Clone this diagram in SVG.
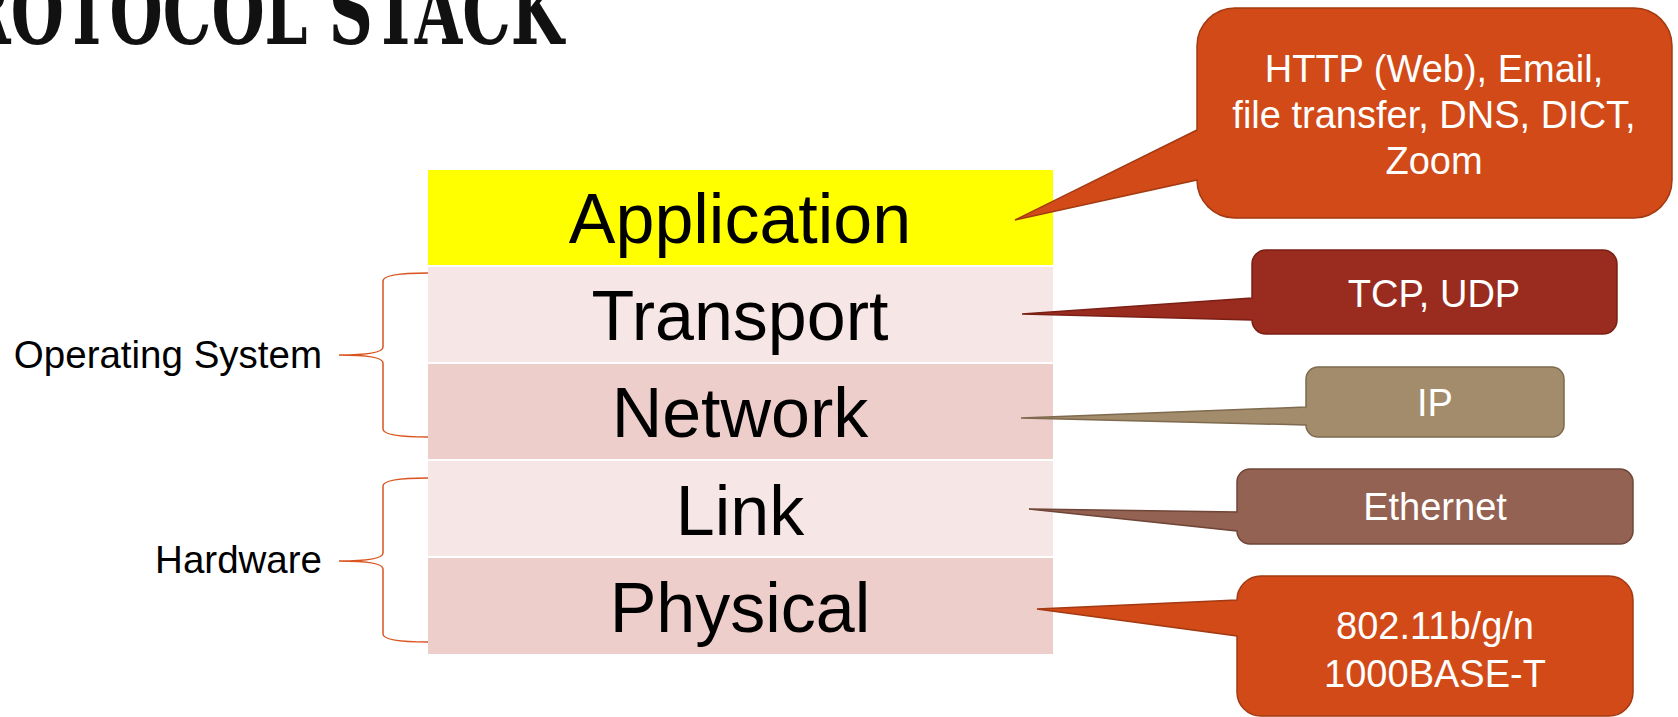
<svg xmlns="http://www.w3.org/2000/svg" width="1678" height="717" viewBox="0 0 1678 717">
<style>
.layer-t{font-family:"Liberation Sans","Helvetica Neue",Arial,sans-serif;font-size:70px;fill:#000;text-anchor:middle}
.side{font-family:"Liberation Sans",Arial,sans-serif;font-size:38.5px;fill:#000;text-anchor:end}
.co-t{font-family:"Liberation Sans",Arial,sans-serif;font-size:38px;fill:#fff;text-anchor:middle}
.brace{fill:none;stroke:#D9541E;stroke-width:1.5}
.light{fill:#F6E7E6}
.dark{fill:#EECECB}
.title{font-family:"DejaVu Serif","Liberation Serif",serif;font-weight:bold;font-stretch:condensed;font-size:92px;fill:#111}
</style>
<rect width="1678" height="717" fill="#fff"/>
<text class="title" x="-40" y="44" textLength="604" lengthAdjust="spacingAndGlyphs">ROTOCOL STACK</text>

<g id="layer-application"><rect x="428" y="170" width="625" height="95" fill="#FFFF00"/><text class="layer-t" x="740" y="243">Application</text></g>
<g id="layer-transport"><rect class="light" x="428" y="267" width="625" height="95"/><text class="layer-t" x="740" y="340">Transport</text></g>
<g id="layer-network"><rect class="dark" x="428" y="364" width="625" height="95"/><text class="layer-t" x="740" y="437">Network</text></g>
<g id="layer-link"><rect class="light" x="428" y="461" width="625" height="95"/><text class="layer-t" x="740" y="535">Link</text></g>
<g id="layer-physical"><rect class="dark" x="428" y="558" width="625" height="96"/><text class="layer-t" x="740" y="632">Physical</text></g>

<g id="label-os"><text class="side" x="322" y="368">Operating System</text></g>
<g id="label-hw"><text class="side" x="322" y="573">Hardware</text></g>

<g id="connectors">
<path class="brace" d="M428,273 C400,273 383,275 383,281 V347 C383,352 370,355 339,355 C370,355 383,358 383,363 V429 C383,435 400,437 428,437"/>
<path class="brace" d="M428,478 C400,478 383,480 383,486 V553 C383,558 370,561 339,561 C370,561 383,564 383,569 V634 C383,640 400,642 428,642"/>
</g>

<g id="callout-app">
<path d="M1197,130 L1015,220 L1197,180 A38,38 0 0 0 1235,218 H1634 A38,38 0 0 0 1672,180 V46 A38,38 0 0 0 1634,8 H1235 A38,38 0 0 0 1197,46 Z" fill="#D14A17" stroke="#A33A12" stroke-width="1.5"/>
<text class="co-t" x="1434" y="82">HTTP (Web), Email,</text>
<text class="co-t" x="1434" y="128">file transfer, DNS, DICT,</text>
<text class="co-t" x="1434" y="174">Zoom</text>
</g>
<g id="callout-transport">
<path d="M1252,298 L1022,314 L1252,320 A14,14 0 0 0 1266,334 H1603 A14,14 0 0 0 1617,320 V264 A14,14 0 0 0 1603,250 H1266 A14,14 0 0 0 1252,264 Z" fill="#9A2C1F" stroke="#7B1F14" stroke-width="1.5"/>
<text class="co-t" x="1434" y="307">TCP, UDP</text>
</g>
<g id="callout-network">
<path d="M1306,407 L1021,418 L1306,425 A12,12 0 0 0 1318,437 H1552 A12,12 0 0 0 1564,425 V379 A12,12 0 0 0 1552,367 H1318 A12,12 0 0 0 1306,379 Z" fill="#A38C6B" stroke="#7E6A4E" stroke-width="1.5"/>
<text class="co-t" x="1435" y="416">IP</text>
</g>
<g id="callout-link">
<path d="M1237,512 L1029,509 L1237,531 A13,13 0 0 0 1250,544 H1620 A13,13 0 0 0 1633,531 V482 A13,13 0 0 0 1620,469 H1250 A13,13 0 0 0 1237,482 Z" fill="#946252" stroke="#6F4538" stroke-width="1.5"/>
<text class="co-t" x="1435" y="520">Ethernet</text>
</g>
<g id="callout-physical">
<path d="M1237,600 L1037,609 L1237,636 V692 A24,24 0 0 0 1261,716 H1609 A24,24 0 0 0 1633,692 V600 A24,24 0 0 0 1609,576 H1261 A24,24 0 0 0 1237,600 Z" fill="#D14A17" stroke="#A33A12" stroke-width="1.5"/>
<text class="co-t" x="1435" y="639">802.11b/g/n</text>
<text class="co-t" x="1435" y="687">1000BASE-T</text>
</g>
</svg>
